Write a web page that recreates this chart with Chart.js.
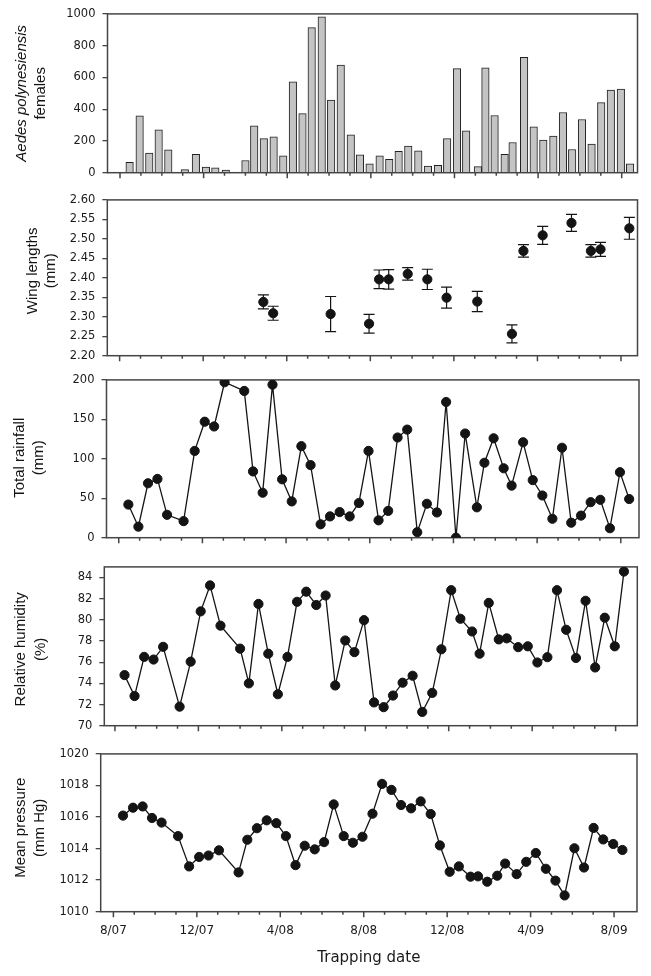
<!DOCTYPE html>
<html>
<head>
<meta charset="utf-8">
<script src="https://cdn.jsdelivr.net/npm/chart.js@4.4.0/dist/chart.umd.min.js"></script>
<style>
  html, body { margin: 0; padding: 0; background: #fff; }
  #wrap { position: relative; width: 651px; height: 976px; overflow: hidden; }
  #wrap canvas { position: absolute; left: 0; }
</style>
</head>
<body>
<div id="wrap">
  <canvas id="chart1" width="651" height="190" style="top:0px"></canvas>
  <canvas id="chart2" width="651" height="186" style="top:186px"></canvas>
  <canvas id="chart3" width="651" height="186" style="top:366px"></canvas>
  <canvas id="chart4" width="651" height="190" style="top:553px"></canvas>
  <canvas id="chart5" width="651" height="236" style="top:740px"></canvas>
</div>
<script>
// trapping dates, in months after Aug 2007
const trapMonths = [
  0.46, 0.94, 1.40, 1.85, 2.31, 3.10, 3.63, 4.11, 4.56, 5.06,
  6.00, 6.42, 6.88, 7.35, 7.81, 8.27, 8.73, 9.17, 9.65, 10.10,
  10.56, 11.04, 11.48, 11.94, 12.42, 12.88, 13.33, 13.79, 14.27, 14.73,
  15.21, 15.65, 16.12, 16.56, 17.12, 17.48, 17.92, 18.40, 18.78, 19.33,
  19.79, 20.25, 20.73, 21.19, 21.63, 22.10, 22.56, 23.02, 23.48, 23.96,
  24.40,
];

const females = [
  65, 358, 123, 270, 144, 19, 115, 36, 31, 17,
  77, 295, 215, 226, 107, 573, 372, 914, 981, 458,
  678, 238, 113, 56, 107, 84, 134, 167, 138, 42,
  46, 215, 655, 264, 38, 661, 360, 115, 190, 726,
  289, 205, 230, 379, 146, 335, 180, 441, 521, 527,
  56,
];

// wing lengths only measured on some dates (index into trapMonths)
const wingIdx = [12, 13, 19, 23, 24, 25, 27, 29, 31, 34, 38, 39, 41, 44, 46, 47, 50];
const wingMean = [2.338, 2.309, 2.307, 2.282, 2.396, 2.396, 2.410, 2.396, 2.349, 2.339, 2.256, 2.469, 2.509, 2.541, 2.469, 2.473, 2.527];
const wingErr = [0.018, 0.018, 0.045, 0.024, 0.024, 0.025, 0.016, 0.026, 0.027, 0.026, 0.023, 0.016, 0.023, 0.022, 0.016, 0.018, 0.028];

const rainfall = [
  42, 14, 69, 74.5, 29, 21, 110, 147, 141, 197,
  186, 84, 57, 194, 74, 46, 116, 92, 17, 27,
  32.5, 27, 44, 110, 22, 34, 127, 137, 7, 43,
  32, 172, 0, 132, 38.5, 95, 126, 88, 66, 121,
  73, 53.5, 24, 114, 19, 28, 45, 48, 12, 83,
  49,
];

const humidity = [
  74.78, 72.8, 76.5, 76.25, 77.45, 71.8, 76.05, 80.8, 83.25, 79.45,
  77.28, 74.0, 81.5, 76.8, 72.97, 76.5, 81.7, 82.66, 81.4, 82.3,
  73.8, 78.05, 76.95, 79.97, 72.2, 71.75, 72.85, 74.06, 74.72, 71.3,
  73.1, 77.22, 82.8, 80.1, 78.9, 76.8, 81.6, 78.15, 78.25, 77.42,
  77.5, 75.97, 76.47, 82.8, 79.06, 76.4, 81.8, 75.5, 80.2, 77.5,
  84.56,
];

const pressure = [
  1016.09, 1016.59, 1016.67, 1015.94, 1015.65, 1014.79, 1012.87, 1013.47, 1013.56, 1013.89,
  1012.49, 1014.56, 1015.29, 1015.79, 1015.61, 1014.79, 1012.95, 1014.18, 1013.95, 1014.41,
  1016.8, 1014.79, 1014.37, 1014.75, 1016.21, 1018.1, 1017.72, 1016.76, 1016.55, 1016.99,
  1016.19, 1014.2, 1012.53, 1012.87, 1012.22, 1012.24, 1011.9, 1012.28, 1013.05, 1012.38,
  1013.16, 1013.72, 1012.72, 1011.97, 1011.03, 1014.02, 1012.8, 1015.31, 1014.58, 1014.29,
  1013.91,
];

const monthTicks = [0, 4, 8, 12, 16, 20, 24];
const monthLabels = ["8/07", "12/07", "4/08", "8/08", "12/08", "4/09", "8/09"];
const femaleTicks = [0, 200, 400, 600, 800, 1000];
const wingTicks = [2.2, 2.25, 2.3, 2.35, 2.4, 2.45, 2.5, 2.55, 2.6];
const rainTicks = [0, 50, 100, 150, 200];
const humidityTicks = [70, 72, 74, 76, 78, 80, 82, 84];
const pressureTicks = [1010, 1012, 1014, 1016, 1018, 1020];

Chart.defaults.font.family = '"DejaVu Sans", sans-serif';
Chart.defaults.font.size = 11.5;
Chart.defaults.color = "#1a1a1a";
Chart.defaults.animation = false;
Chart.defaults.plugins.legend.display = false;
Chart.defaults.plugins.tooltip.enabled = false;

const axisColor = "#454545";
const ink = "#141414";

// box round the plot + monthly tick marks under it
const framePlugin = {
  id: "frame",
  beforeDatasetsDraw(chart) {
    const { ctx, chartArea: a, scales } = chart;
    const x = scales.x;
    ctx.save();
    ctx.strokeStyle = axisColor;
    ctx.lineWidth = 1.5;
    ctx.strokeRect(a.left, a.top, a.right - a.left, a.bottom - a.top);
    ctx.beginPath();
    for (let m = 0; m <= 24; m++) {
      const px = x.getPixelForValue(m);
      ctx.moveTo(px, a.bottom);
      ctx.lineTo(px, a.bottom + (m % 4 === 0 ? 5.5 : 3));
    }
    ctx.stroke();
    ctx.restore();
  },
};

// rotated two-line y titles
const sideTitlePlugin = {
  id: "sideTitle",
  afterDraw(chart, args, opts) {
    const { ctx, chartArea: a } = chart;
    const cy = (a.top + a.bottom) / 2 + (opts.dy || 0);
    opts.lines.forEach((line) => {
      ctx.save();
      ctx.translate(line.x, cy);
      ctx.rotate(-Math.PI / 2);
      ctx.font = (line.italic ? "italic " : "") + '15px "Liberation Sans", Arial, sans-serif';
      ctx.fillStyle = ink;
      ctx.textAlign = "center";
      ctx.textBaseline = "middle";
      ctx.fillText(line.text, 0, 0);
      ctx.restore();
    });
  },
};

const errorBarPlugin = {
  id: "errorBars",
  beforeDatasetsDraw(chart, args, opts) {
    if (!opts.on) return;
    const { ctx, scales } = chart;
    ctx.save();
    ctx.strokeStyle = ink;
    ctx.lineWidth = 1.2;
    ctx.beginPath();
    wingIdx.forEach((d, i) => {
      const px = scales.x.getPixelForValue(trapMonths[d]);
      const hi = scales.y.getPixelForValue(wingMean[i] + wingErr[i]);
      const lo = scales.y.getPixelForValue(wingMean[i] - wingErr[i]);
      ctx.moveTo(px, hi);
      ctx.lineTo(px, lo);
      ctx.moveTo(px - 5.5, hi);
      ctx.lineTo(px + 5.5, hi);
      ctx.moveTo(px - 5.5, lo);
      ctx.lineTo(px + 5.5, lo);
    });
    ctx.stroke();
    ctx.restore();
  },
};

function panelOptions(p) {
  return {
    responsive: false,
    layout: { padding: { top: p.padTop, right: 651 - p.right, bottom: 0, left: 0 } },
    scales: {
      x: {
        type: "linear",
        min: p.xMin,
        max: p.xMax,
        offset: false,
        grid: { display: false, drawTicks: false },
        border: { display: false },
        ticks: {
          display: !!p.xLabels,
          font: { size: 12 },
          padding: 12,
          autoSkip: false,
          maxRotation: 0,
          callback: (v, i) => monthLabels[i],
        },
        afterBuildTicks: (s) => {
          s.ticks = monthTicks.map((v) => ({ value: v }));
        },
        afterFit: (s) => {
          s.height = p.xHeight;
        },
        title: {
          display: !!p.xLabels,
          text: "Trapping date",
          font: { size: 15 },
          padding: { top: 0, bottom: 9 },
        },
      },
      y: {
        min: p.yMin,
        max: p.yMax,
        grid: { drawOnChartArea: false, drawTicks: true, tickLength: 5, color: axisColor, lineWidth: 1.3 },
        border: { display: false },
        ticks: { padding: 7, callback: p.fmt || ((v) => v) },
        afterBuildTicks: (s) => {
          s.ticks = p.yTicks.map((v) => ({ value: v }));
        },
        afterFit: (s) => {
          s.width = p.left;
        },
      },
    },
    plugins: {
      sideTitle: { lines: p.titles, dy: p.dy || 0 },
      errorBars: { on: !!p.errorBars },
    },
  };
}

function lineSet(values) {
  return {
    type: "line",
    data: trapMonths.map((m, i) => ({ x: m, y: values[i] })),
    borderColor: ink,
    borderWidth: 1.3,
    pointRadius: 4.6,
    pointBorderWidth: 1,
    pointBackgroundColor: ink,
    pointBorderColor: ink,
    tension: 0,
  };
}

const plugins = [framePlugin, errorBarPlugin, sideTitlePlugin];

// females per trap
new Chart(document.getElementById("chart1"), {
  type: "bar",
  data: {
    datasets: [
      {
        data: trapMonths.map((m, i) => ({ x: m, y: females[i] })),
        backgroundColor: "#c4c4c4",
        borderColor: "#202020",
        borderWidth: 1,
        barThickness: 7.5,
      },
    ],
  },
  options: panelOptions({
    padTop: 13.3, xHeight: 17.3, left: 107.5, right: 637.5,
    xMin: -0.598, xMax: 24.756,
    yMin: 0, yMax: 1000, yTicks: femaleTicks,
    titles: [
      { text: "Aedes polynesiensis", x: 22, italic: true },
      { text: "females", x: 41 },
    ],
  }),
  plugins,
});

// wing lengths
new Chart(document.getElementById("chart2"), {
  type: "scatter",
  data: {
    datasets: [
      {
        data: wingIdx.map((d, i) => ({ x: trapMonths[d], y: wingMean[i] })),
        pointRadius: 4.6,
        pointBorderWidth: 1,
        pointBackgroundColor: ink,
        pointBorderColor: ink,
      },
    ],
  },
  options: panelOptions({
    padTop: 9.5, xHeight: 16.3, left: 107.3, right: 637.5,
    xMin: -0.59, xMax: 24.79,
    yMin: 2.2, yMax: 2.6, yTicks: wingTicks, fmt: (v) => v.toFixed(2),
    errorBars: true, dy: -7,
    titles: [
      { text: "Wing lengths", x: 33 },
      { text: "(mm)", x: 51 },
    ],
  }),
  plugins,
});

// rainfall
new Chart(document.getElementById("chart3"), {
  type: "line",
  data: { datasets: [lineSet(rainfall)] },
  options: panelOptions({
    padTop: 11.3, xHeight: 14.3, left: 106.5, right: 639,
    xMin: -0.585, xMax: 24.87,
    yMin: 0, yMax: 200, yTicks: rainTicks,
    dy: -1,
    titles: [
      { text: "Total rainfall", x: 20 },
      { text: "(mm)", x: 39 },
    ],
  }),
  plugins,
});

// humidity
new Chart(document.getElementById("chart4"), {
  type: "line",
  data: { datasets: [lineSet(humidity)] },
  options: panelOptions({
    padTop: 12.5, xHeight: 17.3, left: 104.3, right: 637.3,
    xMin: -0.51, xMax: 25.04,
    yMin: 70, yMax: 85, yTicks: humidityTicks,
    dy: 3,
    titles: [
      { text: "Relative humidity", x: 21 },
      { text: "(%)", x: 41 },
    ],
  }),
  plugins,
});

// pressure
new Chart(document.getElementById("chart5"), {
  type: "line",
  data: { datasets: [lineSet(pressure)] },
  options: panelOptions({
    padTop: 12.3, xHeight: 64.3, left: 100.7, right: 637,
    xMin: -0.609, xMax: 25.1,
    yMin: 1010, yMax: 1020, yTicks: pressureTicks,
    xLabels: true, dy: -5,
    titles: [
      { text: "Mean pressure", x: 21 },
      { text: "(mm Hg)", x: 40 },
    ],
  }),
  plugins,
});
</script>
</body>
</html>
